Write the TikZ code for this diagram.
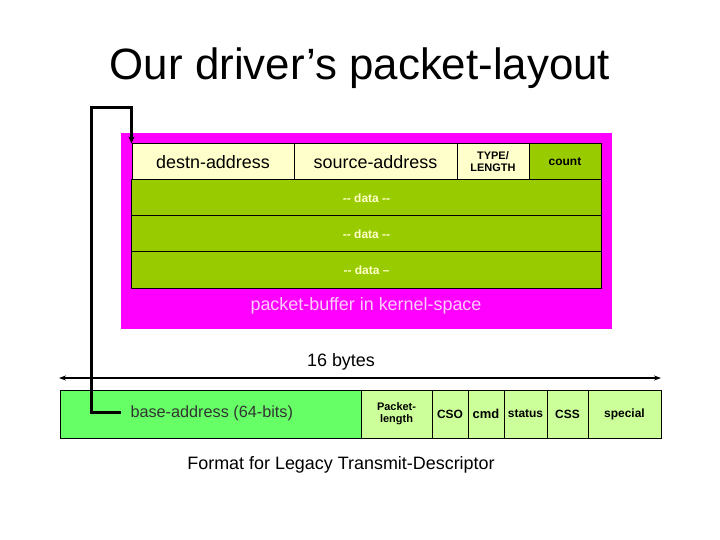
\documentclass[tikz,border=0pt]{standalone}
\usepackage{fontspec}
\setmainfont{Liberation Sans}
\usetikzlibrary{arrows.meta}
\definecolor{mag}{HTML}{FF00FF}
\definecolor{ylw}{HTML}{FFFFCC}
\definecolor{grn}{HTML}{99CC00}
\definecolor{pinktxt}{HTML}{FFCCFF}
\definecolor{brightgrn}{HTML}{66FF66}
\definecolor{lightgrn}{HTML}{CCFF99}
\definecolor{graytxt}{HTML}{333333}
\begin{document}
\begin{tikzpicture}[x=1bp,y=-1bp,
  cell/.style={draw=black,line width=1bp,inner sep=0pt,align=center,minimum height=36bp},
  dcell/.style={draw=black,line width=1bp,inner sep=0pt,align=center,minimum height=48bp,fill=lightgrn},
  big/.style={font=\fontsize{18}{20}\selectfont},
  small/.style={font=\fontsize{11}{12}\selectfont\bfseries},
  datatxt/.style={font=\fontsize{12}{13}\selectfont\bfseries,text=ylw},
  ptr/.style={line width=3bp,-{Stealth[length=7bp,width=6bp]}},
  dim/.style={line width=2bp,{Stealth[length=7bp,width=5bp]}-{Stealth[length=7bp,width=5bp]}}]
\useasboundingbox (0,0) rectangle (720,540);
\node[font=\fontsize{44}{46}\selectfont] (title) at (360,68) {Our driver’s packet-layout};
% packet buffer
\node[fill=mag,inner sep=0pt,minimum width=491bp,minimum height=196bp] (buf) at (366.5,231) {};
\node[cell,fill=ylw,minimum width=162bp,big] (destn) at (213,162) {destn-address};
\node[cell,fill=ylw,minimum width=163bp,big] (src) at (375.5,162) {source-address};
\node[cell,fill=ylw,minimum width=72bp,small] (type) at (493,162) {TYPE/\\LENGTH};
\node[cell,fill=grn,minimum width=72bp,small,font=\fontsize{12}{13}\selectfont\bfseries] (count) at (565,162) {count};
\node[cell,fill=grn,minimum width=469bp,datatxt] (d1) at (366.5,198) {{-}{-} data {-}{-}};
\node[cell,fill=grn,minimum width=469bp,datatxt] (d2) at (366.5,234) {{-}{-} data {-}{-}};
\node[cell,fill=grn,minimum width=469bp,datatxt] (d3) at (366.5,270) {{-}{-} data –};
\node[big,text=pinktxt] (buflabel) at (366,306) {packet-buffer in kernel-space};
% dimension arrow
\node[big] (sixteen) at (341,362) {16 bytes};
\coordinate (aL) at (59,378);
\coordinate (aR) at (661,378);
\draw[dim] (aL) -- (aR);
% descriptor
\node[dcell,fill=brightgrn,minimum width=300bp] (base) at (211,414) {};
\node[text=graytxt,anchor=west,font=\fontsize{16.3}{18}\selectfont] (baselabel) at (127,413) {base-address (64-bits)};
\node[dcell,minimum width=71bp,small] (plen) at (396.5,414) {Packet-\\length};
\node[dcell,minimum width=36bp,small,font=\fontsize{12}{13}\selectfont\bfseries] (cso) at (450,414) {CSO};
\node[dcell,minimum width=36bp,small,font=\fontsize{13}{14}\selectfont\bfseries] (cmd) at (486,414) {cmd};
\node[dcell,minimum width=43bp,small,font=\fontsize{12}{13}\selectfont\bfseries] (status) at (525.5,414) {status};
\node[dcell,minimum width=41bp,small,font=\fontsize{12}{13}\selectfont\bfseries] (css) at (567.5,414) {CSS};
\node[dcell,minimum width=73bp,small,font=\fontsize{12}{13}\selectfont\bfseries] (special) at (624.5,414) {special};
\node[big] (fmt) at (341,465) {Format for Legacy Transmit-Descriptor};
% pointer
\coordinate (p0) at (121,412);
\coordinate (corner) at (91,108);
\draw[ptr] (p0) -| (corner) -| (destn.north west);
\end{tikzpicture}
\end{document}
